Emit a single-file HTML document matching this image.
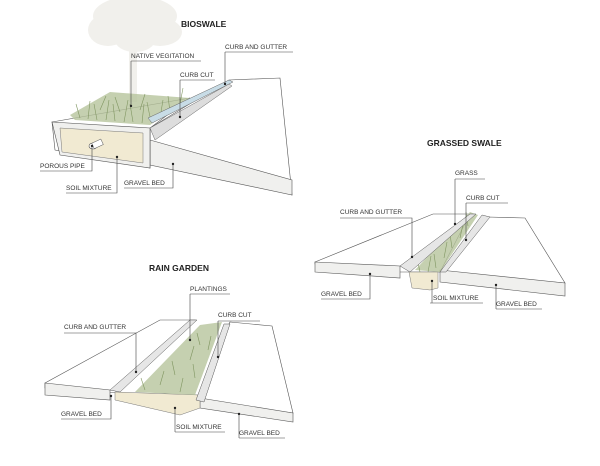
<!DOCTYPE html>
<html><head><style>
body{margin:0;background:#fff}
svg{display:block}
text{font-family:"Liberation Sans",sans-serif;font-size:6.5px;fill:#333}
.t{font-weight:bold;font-size:8.5px;fill:#222}
.l{stroke:#444;stroke-width:0.6;fill:none}
.s{fill:#fff;stroke:#555;stroke-width:0.6}
.f{fill:#f0f0ee;stroke:#555;stroke-width:0.6}
.soil{fill:#f1ead2;stroke:#777;stroke-width:0.5}
.g{fill:#b7c49c;opacity:.8}
.b{stroke:#7f9560;stroke-width:.6;fill:none}
</style></head><body>
<svg width="600" height="466" viewBox="0 0 600 466">
<!-- tree -->
<g fill="#f1f0ec">
<ellipse cx="135" cy="16" rx="42" ry="20"/><ellipse cx="108" cy="30" rx="20" ry="16"/><ellipse cx="160" cy="32" rx="22" ry="14"/><ellipse cx="135" cy="40" rx="20" ry="12"/>
<rect x="129" y="40" width="8" height="62"/>
</g>
<!-- BIOSWALE -->
<text class="t" x="181" y="27">BIOSWALE</text>
<polygon class="s" points="229,80 280,78 292,195 150,148 150,128"/>
<polygon class="f" points="150,140 292,180 292,195 150,165"/>
<polygon class="s" points="52,122 190,98 150,128 150,168 55,150"/>
<polygon class="f" points="52,122 150,128 150,168 60,155"/>
<polygon class="soil" points="60,128 143,133 143,163 62,152"/>
<polygon class="g" points="70,115 110,92 190,98 150,125 75,120"/>
<path class="b" d="M80,118l-4,-14M88,119l2,-18M97,120l-3,-16M106,120l3,-20M115,121l-2,-17M124,122l4,-22M133,122l-3,-18M142,123l2,-19M151,122l-4,-20M160,118l3,-18M170,112l-2,-16M180,104l3,-16M100,110l6,-14M120,112l-5,-15M140,110l5,-16"/>
<polygon fill="#c8dce6" stroke="#666" stroke-width=".5" points="148,118 229,80 233,82 152,123"/>
<polygon fill="#ddd" stroke="#666" stroke-width=".5" points="150,128 229,84 232,86 155,140"/>
<ellipse cx="93" cy="146" rx="4" ry="3" fill="#fff" stroke="#555" stroke-width=".6"/>
<rect x="93" y="143" width="10" height="6" fill="#fff" stroke="#555" stroke-width=".5" transform="rotate(-25 93 146)"/>
<text x="131" y="58">NATIVE VEGITATION</text><path class="l" d="M131,61H201M131,61V106"/>
<text x="225" y="49">CURB AND GUTTER</text><path class="l" d="M225,52H293M225,52V84"/>
<text x="180" y="77">CURB CUT</text><path class="l" d="M180,80H215M180,80V117"/>
<text x="40" y="168">POROUS PIPE</text><path class="l" d="M40,171H92V146"/>
<text x="66" y="190">SOIL MIXTURE</text><path class="l" d="M66,193H117V157"/>
<text x="124" y="185">GRAVEL BED</text><path class="l" d="M124,188H173V164"/>
<g fill="#222"><circle cx="131" cy="106" r="1.2"/><circle cx="225" cy="84" r="1.2"/><circle cx="180" cy="117" r="1.2"/><circle cx="92" cy="146" r="1.2"/><circle cx="117" cy="157" r="1.2"/><circle cx="173" cy="164" r="1.2"/></g>

<!-- GRASSED SWALE -->
<text class="t" x="427" y="146">GRASSED SWALE</text>
<polygon class="s" points="315,262 433,214 470,214 440,272 400,272 315,264"/>
<polygon class="f" points="315,262 400,266 400,278 315,272"/>
<polygon class="s" points="488,217 525,218 565,283 440,272 455,260"/>
<polygon class="f" points="440,270 565,283 565,296 440,282"/>
<polygon class="soil" points="409,272 438,272 438,288 430,290 412,288"/>
<polygon class="g" points="415,270 470,212 478,215 440,272"/>
<path class="b" d="M420,272l-3,-14M428,272l3,-16M436,268l-2,-14M444,258l3,-16M452,248l-2,-14M460,238l3,-14M468,226l-2,-14"/>
<polygon fill="#e6e6e6" stroke="#555" stroke-width=".5" points="400,266 470,214 476,214 410,272"/>
<polygon fill="#e6e6e6" stroke="#555" stroke-width=".5" points="440,272 482,215 490,217 446,272"/>
<text x="455" y="175">GRASS</text><path class="l" d="M455,179H485M455,179V224"/>
<text x="466" y="200">CURB CUT</text><path class="l" d="M466,203H508M466,203V240"/>
<text x="340" y="214">CURB AND GUTTER</text><path class="l" d="M340,218H412V257"/>
<text x="321" y="296">GRAVEL BED</text><path class="l" d="M321,299H370V274"/>
<text x="433" y="300">SOIL MIXTURE</text><path class="l" d="M430,303H483M432,303V281"/>
<text x="496" y="306">GRAVEL BED</text><path class="l" d="M496,309H542M496,309V285"/>
<g fill="#222"><circle cx="455" cy="224" r="1.2"/><circle cx="466" cy="240" r="1.2"/><circle cx="412" cy="257" r="1.2"/><circle cx="370" cy="274" r="1.2"/><circle cx="432" cy="281" r="1.2"/><circle cx="496" cy="285" r="1.2"/></g>

<!-- RAIN GARDEN -->
<text class="t" x="149" y="271">RAIN GARDEN</text>
<polygon class="s" points="45,383 160,320 195,320 118,393 45,388"/>
<polygon class="f" points="45,383 110,390 110,400 45,395"/>
<polygon class="s" points="230,322 272,326 293,413 200,400 218,345"/>
<polygon class="f" points="200,398 293,413 293,422 200,408"/>
<polygon class="soil" points="115,392 200,395 200,408 180,415 115,400"/>
<polygon class="g" points="135,392 200,325 222,322 195,395"/>
<path class="b" d="M145,390l-4,-12M160,385l4,-14M175,375l-3,-14M190,360l4,-14M200,345l-3,-12M180,392l3,-14M195,378l-2,-14M208,350l3,-14"/>
<polygon fill="#e6e6e6" stroke="#555" stroke-width=".5" points="110,390 190,320 197,320 120,392"/>
<polygon fill="#e6e6e6" stroke="#555" stroke-width=".5" points="196,400 224,324 230,324 204,402"/>
<text x="190" y="291">PLANTINGS</text><path class="l" d="M190,294H230M190,294V340"/>
<text x="218" y="317">CURB CUT</text><path class="l" d="M218,321H260M218,321V357"/>
<text x="64" y="329">CURB AND GUTTER</text><path class="l" d="M64,333H136V372"/>
<text x="61" y="416">GRAVEL BED</text><path class="l" d="M61,419H111V396"/>
<text x="176" y="429">SOIL MIXTURE</text><path class="l" d="M175,432H225M175,432V408"/>
<text x="239" y="435">GRAVEL BED</text><path class="l" d="M239,438H285M239,438V414"/>
<g fill="#222"><circle cx="190" cy="340" r="1.2"/><circle cx="218" cy="357" r="1.2"/><circle cx="136" cy="372" r="1.2"/><circle cx="111" cy="396" r="1.2"/><circle cx="175" cy="408" r="1.2"/><circle cx="239" cy="414" r="1.2"/></g>
</svg>
</body></html>
